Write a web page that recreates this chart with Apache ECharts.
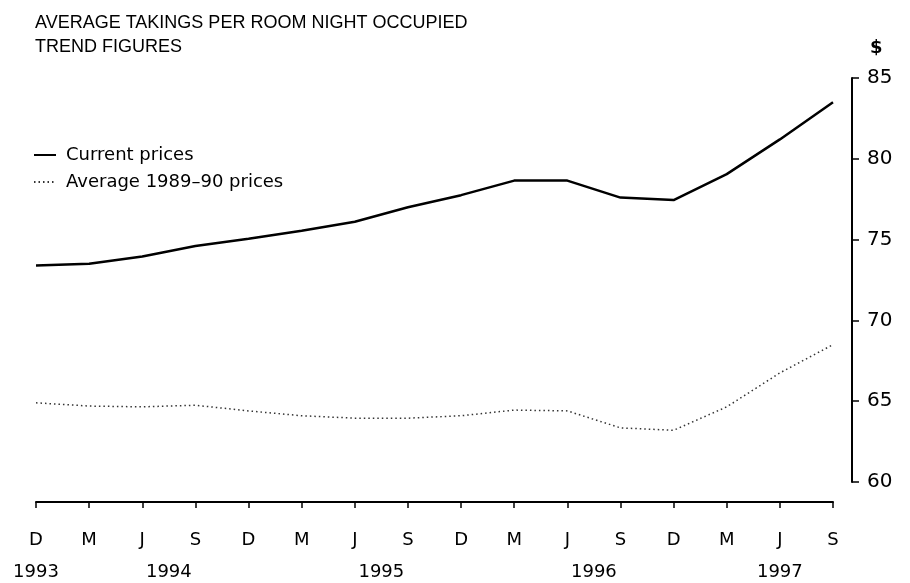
<!DOCTYPE html>
<html>
<head>
<meta charset="utf-8">
<script src="https://cdn.jsdelivr.net/npm/echarts@6/dist/echarts.min.js"></script>
<style>
  html, body { margin: 0; padding: 0; background: #fff; }
  #main { width: 910px; height: 583px; }
</style>
</head>
<body>
<div id="main"></div>
<script>
// quarter labels along the bottom
const quarters = ['D', 'M', 'J', 'S', 'D', 'M', 'J', 'S', 'D', 'M', 'J', 'S', 'D', 'M', 'J', 'S'];
// trend figures, $ per room night occupied
const currentPrices = [73.4, 73.5, 73.95, 74.6, 75.05, 75.55, 76.1, 77.0, 77.75, 78.65, 78.65, 77.6, 77.45, 79.05, 81.2, 83.5];
const constPrices = [64.9, 64.7, 64.65, 64.75, 64.4, 64.1, 63.95, 63.95, 64.1, 64.45, 64.4, 63.35, 63.2, 64.65, 66.75, 68.5];
// years, and where each sits (in half-quarter steps from the first tick)
const years = ['1993', '1994', '1995', '1996', '1997'];
const yearSlot = [0, 5, 13, 21, 28];
const yTicks = [60, 65, 70, 75, 80, 85];

const slots = [];
for (let i = 0; i <= (quarters.length - 1) * 2; i++) slots.push('');
yearSlot.forEach((s, i) => { slots[s] = years[i]; });

const myChart = echarts.init(document.getElementById('main'));
const txt = { color: '#000', fontFamily: 'DejaVu Sans' };

const option = {
  backgroundColor: '#fff',
  animation: false,
  title: [
    {
      text: 'AVERAGE TAKINGS PER ROOM NIGHT OCCUPIED\nTREND FIGURES',
      left: 35, top: 11, padding: 0,
      textStyle: { color: '#000', fontFamily: 'Liberation Sans', fontSize: 18, fontWeight: 'normal', lineHeight: 24 }
    },
    {
      text: '$',
      left: 870, top: 39, padding: 0,
      textStyle: { color: '#000', fontFamily: 'DejaVu Sans', fontSize: 18, fontWeight: 'bold' }
    }
  ],
  legend: {
    orient: 'vertical',
    left: 33, top: 146, padding: 0,
    itemWidth: 22, itemHeight: 18, itemGap: 9,
    itemStyle: { opacity: 0 },
    textStyle: Object.assign({ fontSize: 18, lineHeight: 18, padding: [0, 0, 0, 5] }, txt),
    data: ['Current prices', 'Average 1989\u201390 prices']
  },
  grid: { left: 36, right: 77, top: 78, bottom: 101 },
  xAxis: [
    {
      type: 'category',
      data: quarters,
      boundaryGap: false,
      offset: 20,
      axisLine: { lineStyle: { color: '#000', width: 2 } },
      axisTick: { inside: false, length: 6, lineStyle: { color: '#000', width: 1.5 }, interval: 0 },
      axisLabel: Object.assign({ fontSize: 18, margin: 29, interval: 0 }, txt),
      splitLine: { show: false }
    },
    {
      type: 'category',
      data: slots,
      position: 'bottom',
      boundaryGap: false,
      offset: 20,
      axisLine: { show: false },
      axisTick: { show: false },
      axisLabel: Object.assign({ fontSize: 18, margin: 61, interval: 0 }, txt),
      splitLine: { show: false }
    }
  ],
  yAxis: {
    type: 'value',
    position: 'right',
    offset: 19,
    min: yTicks[0],
    max: yTicks[yTicks.length - 1],
    interval: 5,
    axisLine: { show: true, lineStyle: { color: '#000', width: 2 } },
    axisTick: { show: true, inside: false, length: 7, lineStyle: { color: '#000', width: 1.5 } },
    axisLabel: Object.assign({ fontSize: 20, margin: 15 }, txt),
    splitLine: { show: false }
  },
  series: [
    {
      name: 'Current prices',
      type: 'line',
      data: currentPrices,
      symbol: 'none',
      lineStyle: { color: '#000', width: 2.5 },
      itemStyle: { color: '#000' }
    },
    {
      name: 'Average 1989\u201390 prices',
      type: 'line',
      data: constPrices,
      symbol: 'none',
      lineStyle: { color: '#333', width: 1.5, type: [1.5, 3] },
      itemStyle: { color: '#333' }
    }
  ]
};
myChart.setOption(option);
</script>
</body>
</html>
